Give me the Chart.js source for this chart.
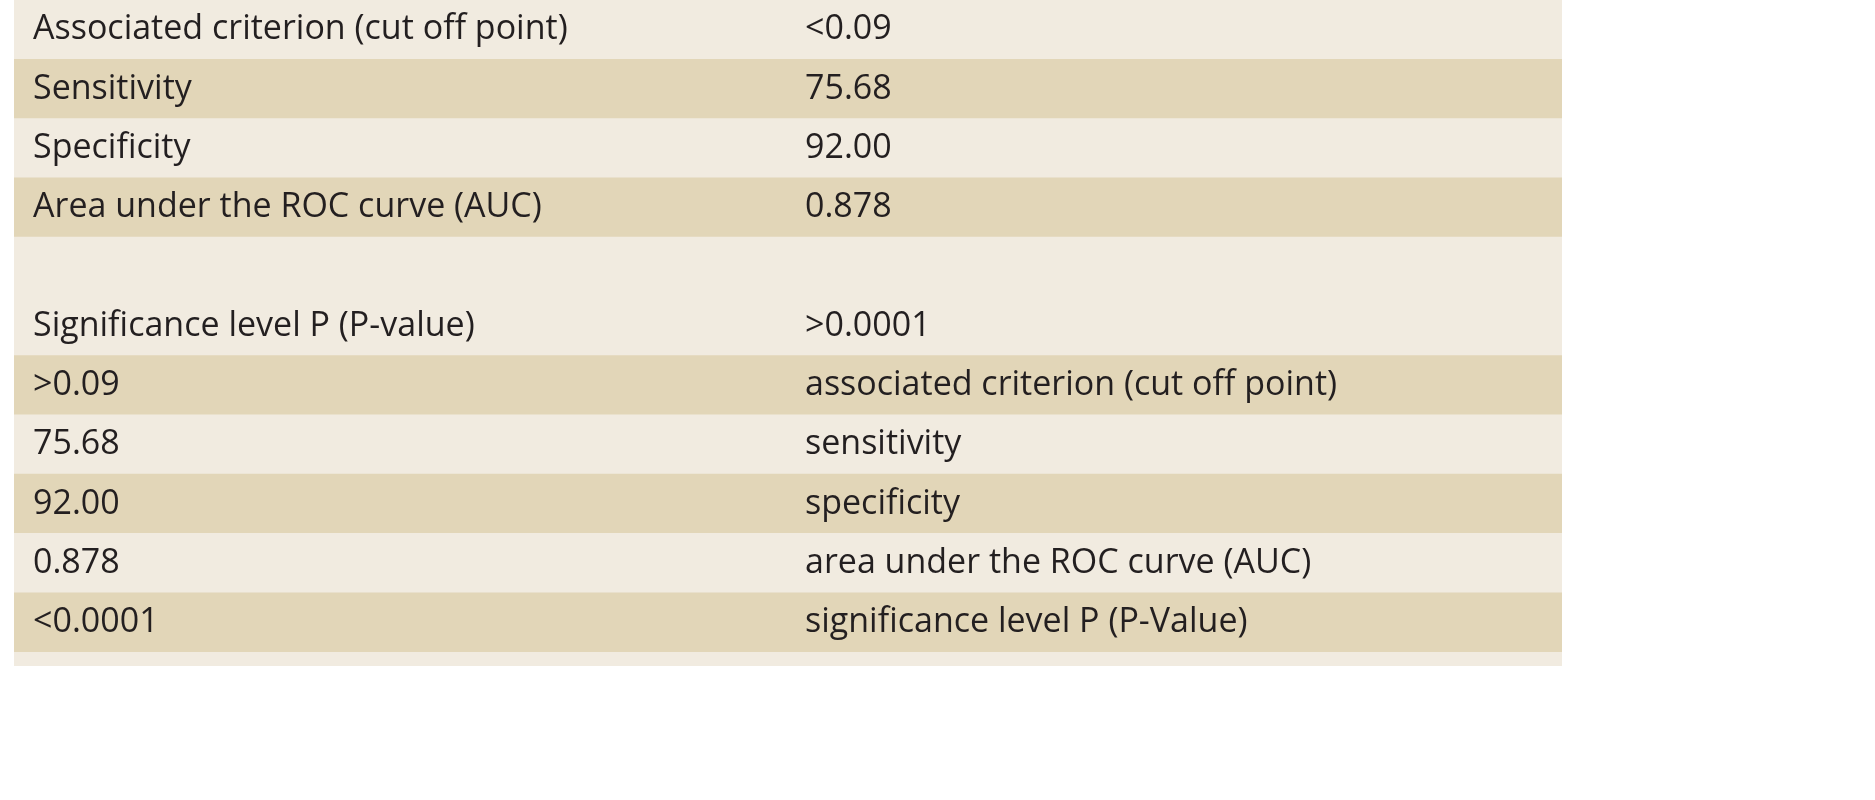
<!DOCTYPE html>
<html>
<head>
<meta charset="utf-8">
<script src="https://cdn.jsdelivr.net/npm/chart.js@4/dist/chart.umd.min.js"></script>
<style>
  body { margin: 0; background: #fff; }
  #wrap { position: absolute; left: 14px; top: 0; width: 1548px; height: 666px; background: #f1ebe0; }
  #inner { position: relative; width: 1548px; height: 652px; }
</style>
</head>
<body>
<div id="wrap"><div id="inner"><canvas id="canvas"></canvas></div></div>
<script>
// rows of the table, top to bottom
var leftCol = ['Associated criterion (cut off point)', 'Sensitivity', 'Specificity', 'Area under the ROC curve (AUC)', '',
  'Significance level P (P-value)', '>0.09', '75.68', '92.00', '0.878', '<0.0001'];
var rightCol = ['<0.09', '75.68', '92.00', '0.878', '',
  '>0.0001', 'associated criterion (cut off point)', 'sensitivity', 'specificity', 'area under the ROC curve (AUC)', 'significance level P (P-Value)'];
var shaded = [false, true, false, true, false, false, true, false, true, false, true];

var LIGHT = '#f1ebe0';
var DARK = '#e2d6b8';

var textPlugin = {
  id: 'cellText',
  afterDatasetsDraw: function(chart) {
    var ctx = chart.ctx;
    var yScale = chart.scales.y;
    ctx.save();
    ctx.font = '34px "Open Sans", "Liberation Sans", sans-serif';
    ctx.fillStyle = '#231f20';
    ctx.textBaseline = 'middle';
    leftCol.forEach(function(t, i) {
      var y = yScale.getPixelForValue(i);
      ctx.fillText(t, 19, y);
      ctx.fillText(rightCol[i], 791, y);
    });
    ctx.restore();
  }
};

var ctx = document.getElementById('canvas').getContext('2d');
var chart = new Chart(ctx, {
  type: 'bar',
  data: {
    labels: leftCol.map(function(v, k) { return 'r' + k; }),
    datasets: [{
      data: leftCol.map(function() { return 1; }),
      backgroundColor: shaded.map(function(s) { return s ? DARK : LIGHT; }),
      borderWidth: 0,
      categoryPercentage: 1,
      barPercentage: 1
    }]
  },
  options: {
    indexAxis: 'y',
    responsive: true,
    maintainAspectRatio: false,
    animation: false,
    layout: { padding: 0 },
    plugins: { legend: { display: false }, tooltip: { enabled: false } },
    scales: {
      x: { display: false, min: 0, max: 1 },
      y: { display: false }
    }
  },
  plugins: [textPlugin]
});
</script>
</body>
</html>
